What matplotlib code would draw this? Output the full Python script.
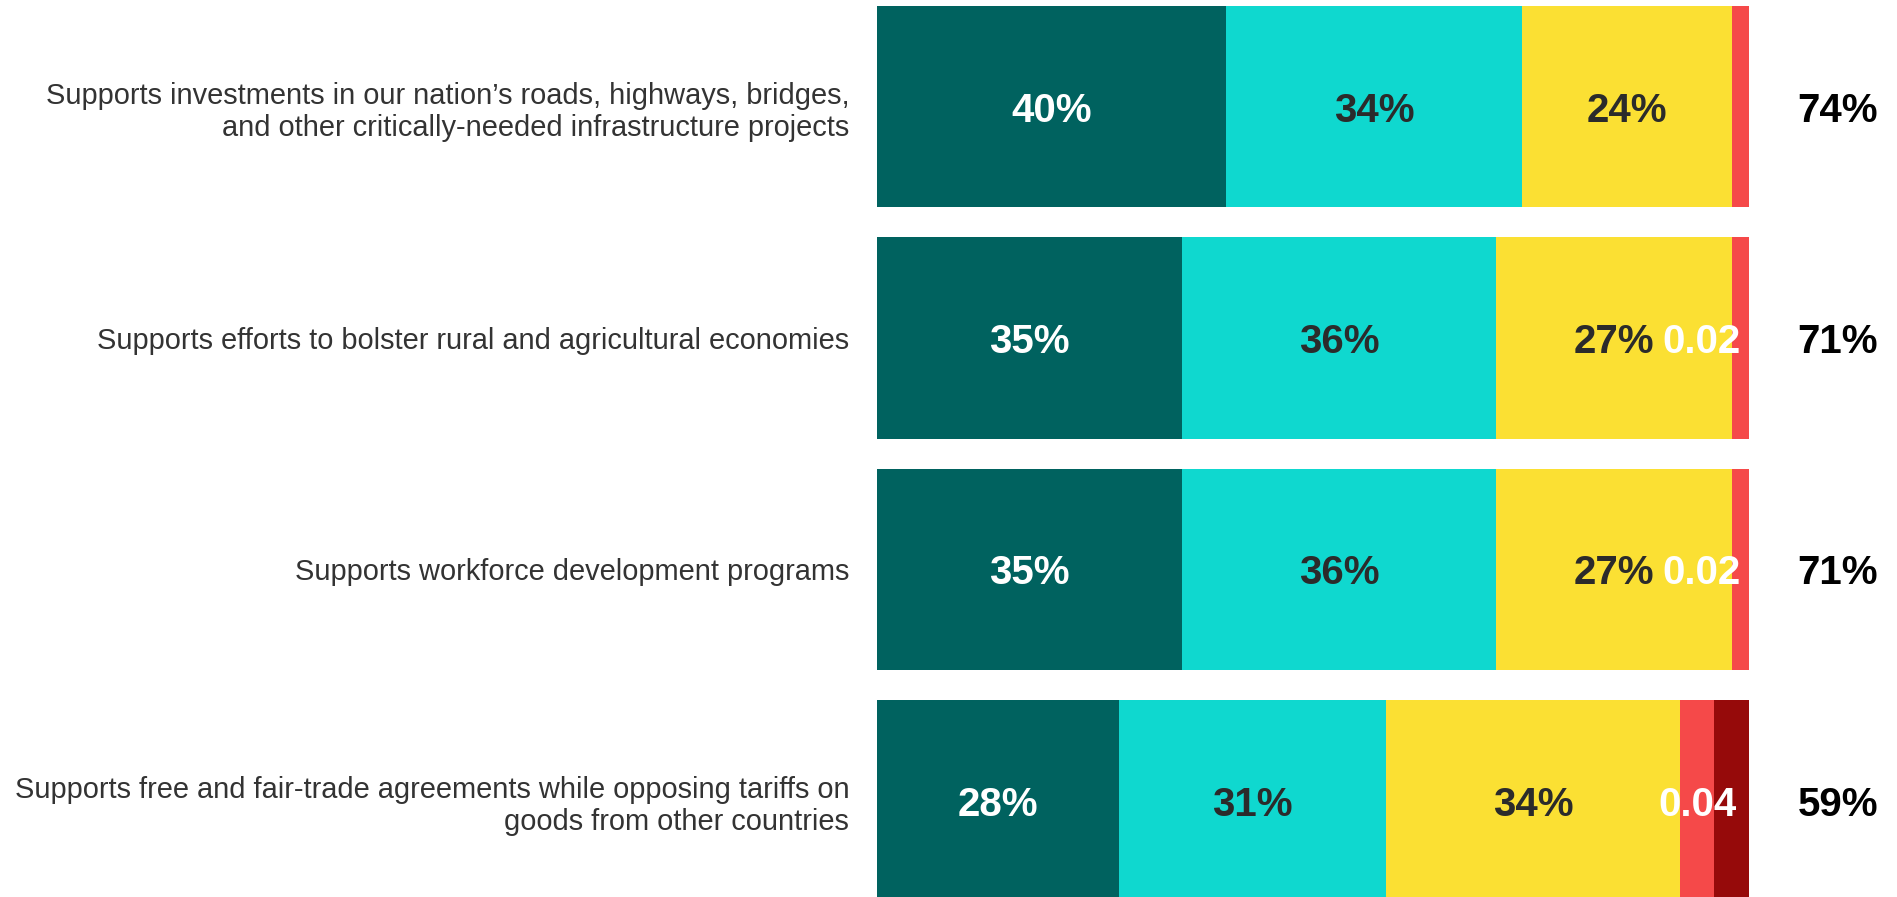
import numpy as np
import matplotlib.pyplot as plt

plt.rcParams['font.family'] = ['Liberation Sans', 'DejaVu Sans']

# survey items, top to bottom
items = [
    "Supports investments in our nation\u2019s roads, highways, bridges,\nand other critically-needed infrastructure projects",
    "Supports efforts to bolster rural and agricultural economies",
    "Supports workforce development programs",
    "Supports free and fair-trade agreements while opposing tariffs on\ngoods from other countries",
]

# response shares per item
strongly = [0.40, 0.35, 0.35, 0.28]
somewhat = [0.34, 0.36, 0.36, 0.31]
neutral = [0.24, 0.27, 0.27, 0.34]
oppose = [0.02, 0.02, 0.02, 0.04]
strongly_oppose = [0.00, 0.00, 0.00, 0.04]
show_oppose_label = [False, True, True, True]

series = [strongly, somewhat, neutral, oppose, strongly_oppose]
colors = ['#00625f', '#0fd8cf', '#fbe033', '#f54949', '#960a0a']
text_colors = ['white', '#2b2b2b', '#2b2b2b', 'white', 'white']

fig = plt.figure(figsize=(18.97, 8.97), dpi=100)
ax = fig.add_axes([877 / 1897, 0, 872 / 1897, 1])

y = np.arange(len(items))
vals = np.array(series)
totals = vals.sum(axis=0)
shares = vals / totals  # 100% stacked

lbl = dict(fontsize=29, fontweight='bold', va='center_baseline')

left = np.zeros(len(items))
for k, (s, c, tc) in enumerate(zip(shares, colors, text_colors)):
    ax.barh(y, s, left=left, height=0.87, color=c, edgecolor='none')
    for i in range(len(items)):
        if vals[k, i] == 0:
            continue
        cx = left[i] + s[i] / 2
        if k < 3:
            ax.text(cx, y[i], f"{vals[k, i] * 100:.0f}%", ha='center', color=tc, **lbl)
        elif k == 3 and show_oppose_label[i]:
            lab = f"{vals[k, i]:g}"
            if cx + 0.045 > 1.0:
                ax.text(0.99, y[i], lab, ha='right', color=tc, **lbl)
            else:
                ax.text(cx, y[i], lab, ha='center', color=tc, **lbl)
    left += s

# net support on the right
net = vals[0] + vals[1]
for i in range(len(items)):
    ax.text(1.102, y[i], f"{net[i] * 100:.0f}%", ha='center', color='black',
            clip_on=False, **lbl)

ax.set_xlim(0, 1)
ax.set_ylim(3.417, -0.461)
ax.set_yticks(y)
ax.set_yticklabels(items, fontsize=20.9, color='#333333', ha='right', linespacing=1.2)
ax.tick_params(axis='y', length=0, pad=20)
ax.set_xticks([])
for sp in ax.spines.values():
    sp.set_visible(False)

fig.savefig('out.png', dpi=100)
